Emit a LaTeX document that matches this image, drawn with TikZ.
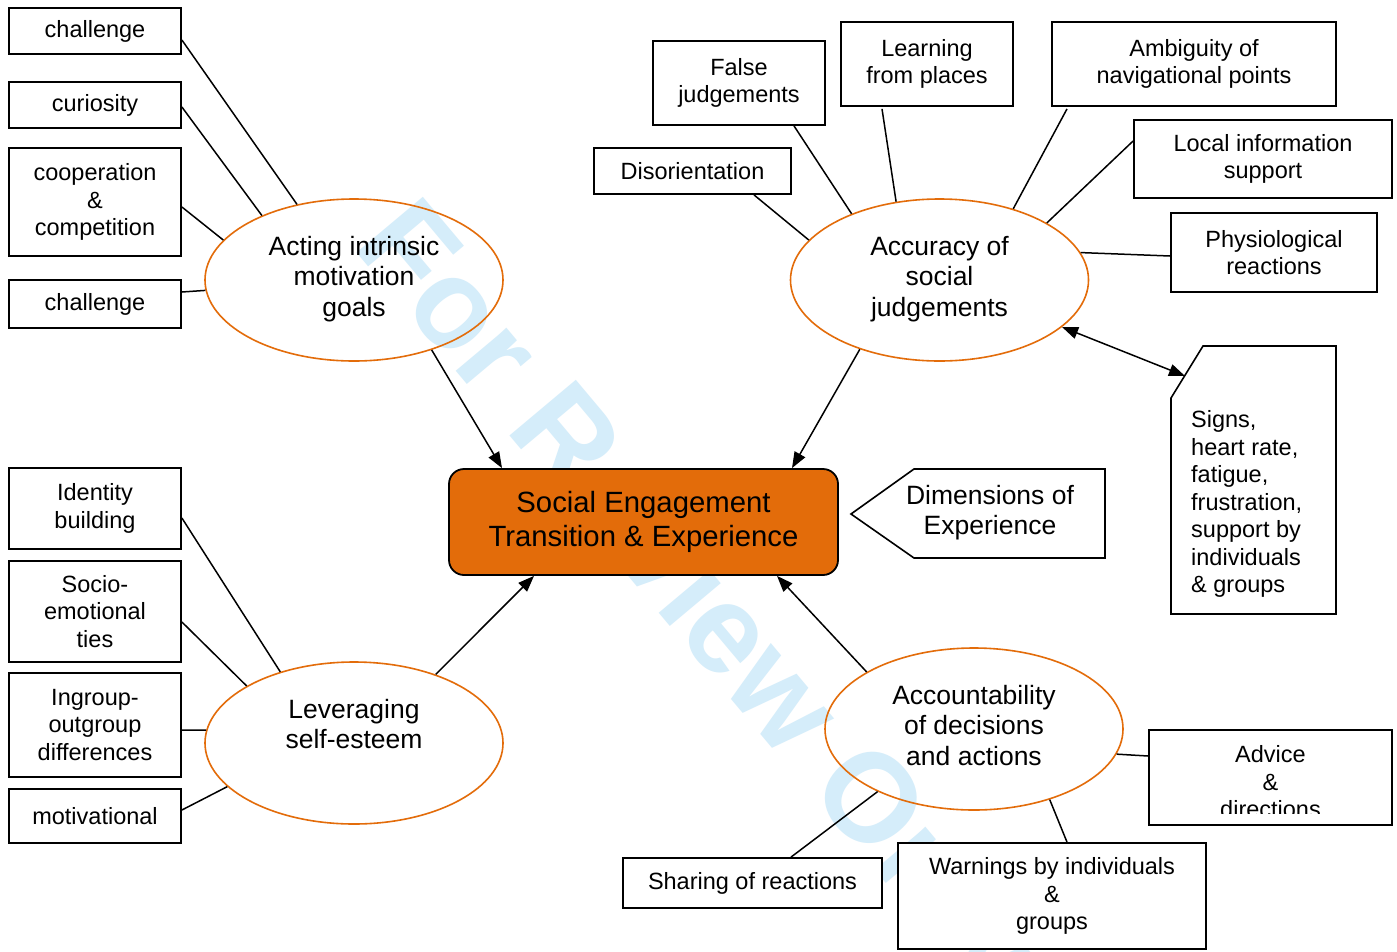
\documentclass[tikz,border=0pt]{standalone}
\usepackage{fontspec}
\setmainfont{Liberation Sans}
\usetikzlibrary{arrows.meta,calc,shapes.geometric}
\definecolor{accent}{RGB}{227,108,10}
\definecolor{wmblue}{RGB}{213,237,250}
\newcommand\fsmall{\fontsize{23.5}{27.5}\selectfont}
\newcommand\fmid{\fontsize{26.5}{30.5}\selectfont}
\newcommand\fbig{\fontsize{29.3}{34}\selectfont}

\begin{document}
\begin{tikzpicture}[x=1pt,y=-1pt,
  box/.style={draw, fill=white, line width=1.8pt, align=center, font=\fsmall, inner sep=0pt},
  oval/.style={ellipse, draw=accent, line width=1.6pt, minimum width=298pt, minimum height=162pt, inner sep=0pt},
  ovaltext/.style={align=center, font=\fmid, inner sep=0pt},
  link/.style={line width=1.5pt},
  flow/.style={line width=1.5pt, -{Triangle[length=16pt,width=12pt]}},
  twoway/.style={line width=1.5pt, {Triangle[length=16pt,width=12pt]}-{Triangle[length=16pt,width=12pt]}},
]
\fill[white] (0,0) rectangle (1397,951);
\useasboundingbox (0,0) rectangle (1397,951);

% watermark
\node[rotate=-50, text=wmblue, font=\fontsize{126}{126}\selectfont\bfseries, inner sep=0pt] (wm) at (694,604) {For Review Only};

% the four themes
\node[oval] (A) at (354,280) {};
\node[ovaltext] (At) at (354,279) {Acting intrinsic\\motivation\\goals};
\node[oval] (B) at (939.5,280) {};
\node[ovaltext] (Bt) at (939.5,279) {Accuracy of\\social\\judgements};
\node[oval] (C) at (354,743) {};
\node[ovaltext] (Ct) at (354,724) {Leveraging\\self-esteem};
\node[oval] (D) at (974,729) {};
\node[ovaltext] (Dt) at (974,725.5) {Accountability\\of decisions\\and actions};

% central box
\node[draw, fill=accent, rounded corners=15pt, line width=1.8pt, minimum width=389pt, minimum height=106pt, align=center, font=\fbig, inner sep=0pt] (core) at (643.5,522) {Social Engagement\\Transition \& Experience};

% left column, top group
\node[box, minimum width=172pt, minimum height=46pt] (ch1) at (95,31) {challenge};
\node[box, minimum width=172pt, minimum height=46pt] (cur) at (95,105) {curiosity};
\node[box, minimum width=172pt, minimum height=108pt] (coop) at (95,202) {cooperation\\\&\\competition};
\node[box, minimum width=172pt, minimum height=48pt] (ch2) at (95,304) {challenge};

% left column, bottom group
\node[box, minimum width=172pt, minimum height=81pt] (ident) at (95,508.5) {Identity\\building};
\node[box, minimum width=172pt, minimum height=101pt] (socio) at (95,611.5) {Socio-\\emotional\\ties};
\node[box, minimum width=172pt, minimum height=104pt] (ingr) at (95,725) {Ingroup-\\outgroup\\differences};
\node[box, minimum width=172pt, minimum height=54pt] (motiv) at (95,816) {motivational};

% upper right group
\node[box, minimum width=197pt, minimum height=46pt] (disor) at (692.5,171) {Disorientation};
\node[box, minimum width=172pt, minimum height=84pt] (false) at (739,83) {False\\judgements};
\node[box, minimum width=172pt, minimum height=84pt] (learn) at (927,64) {Learning\\from places};
\node[box, minimum width=284pt, minimum height=84pt] (ambig) at (1194,64) {Ambiguity of\\navigational points};
\node[box, minimum width=258pt, minimum height=78pt] (local) at (1263,159) {Local information\\support};
\node[box, minimum width=206pt, minimum height=79pt] (physio) at (1274,252.5) {Physiological\\reactions};

% tab with the signs list
\draw[line width=1.6pt, fill=white] (1171,398) -- (1203,346) -- (1336,346) -- (1336,614) -- (1171,614) -- cycle;
\node[align=left, font=\fsmall, anchor=west, inner sep=0pt] (signs) at (1191,504) {Signs,\\heart rate,\\fatigue,\\frustration,\\support by\\individuals\\\& groups};
\coordinate (signscut) at (1185,376);

% pointer label
\draw[line width=1.6pt, fill=white] (851,514) -- (914,469) -- (1105,469) -- (1105,558) -- (914,558) -- cycle;
\node[ovaltext] (dims) at (990,512.5) {Dimensions of\\Experience};

% lower right group
\node[box, minimum width=243pt, minimum height=95pt] (advice) at (1270.5,777.5) {};
\begin{scope}
  \clip (1151,732) rectangle (1390,813);
  \node[align=center, font=\fsmall, inner sep=0pt] (advtext) at (1270.5,782) {Advice\\\&\\directions};
\end{scope}
\node[box, minimum width=308pt, minimum height=106pt] (warn) at (1052,896) {Warnings by individuals\\\&\\groups};
\node[box, minimum width=259pt, minimum height=50pt] (share) at (752.5,883) {Sharing of reactions};

% links to the themes
\draw[link] ($(ch1.east)+(0,9)$) -- (A.127);
\draw[link] ($(cur.east)+(0,2)$) -- (A.145);
\draw[link] ($(coop.east)+(0,5)$) -- (A.163);
\draw[link] ($(ch2.east)+(0,-12)$) -- (A.184.6);

\draw[link] ($(ident.east)+(0,9.5)$) -- (C.136);
\draw[link] ($(socio.east)+(0,10.5)$) -- (C.152.4);
\draw[link] ($(ingr.east)+(0,5)$) -- (C.175);
\draw[link] ($(motiv.east)+(0,-6)$) -- (C.199);

\draw[link] ($(disor.south)+(61.5,0)$) -- (B.163);
\draw[link] ($(false.south)+(55,0)$) -- (B.143.3);
\draw[link] ($(learn.south)+(-45,2)$) -- (B.119);
\draw[link] ($(ambig.south)+(-127,2)$) -- (B.44.8);
\draw[link] ($(local.west)+(0,-18)$) -- (B.28.1);
\draw[link] ($(physio.west)+(0,3.5)$) -- (B.11.3);

\draw[link] ($(advice.west)+(0,-21.5)$) -- (D.-10.8);
\draw[link] ($(warn.north)+(15,0)$) -- (D.-43.8);
\draw[link] ($(share.north)+(38.5,0)$) -- (D.213.4);

% arrows into the central box
\draw[flow] (A.-42.5) -- ($(core.north)+(-141.5,0)$);
\draw[flow] (B.221.5) -- ($(core.north)+(148.5,0)$);
\draw[flow] (C.40.2) -- ($(core.south)+(-109.5,0)$);
\draw[flow] (D.152.6) -- ($(core.south)+(133.5,0)$);
\draw[twoway] (B.-21.3) -- (signscut);
\end{tikzpicture}
\end{document}
